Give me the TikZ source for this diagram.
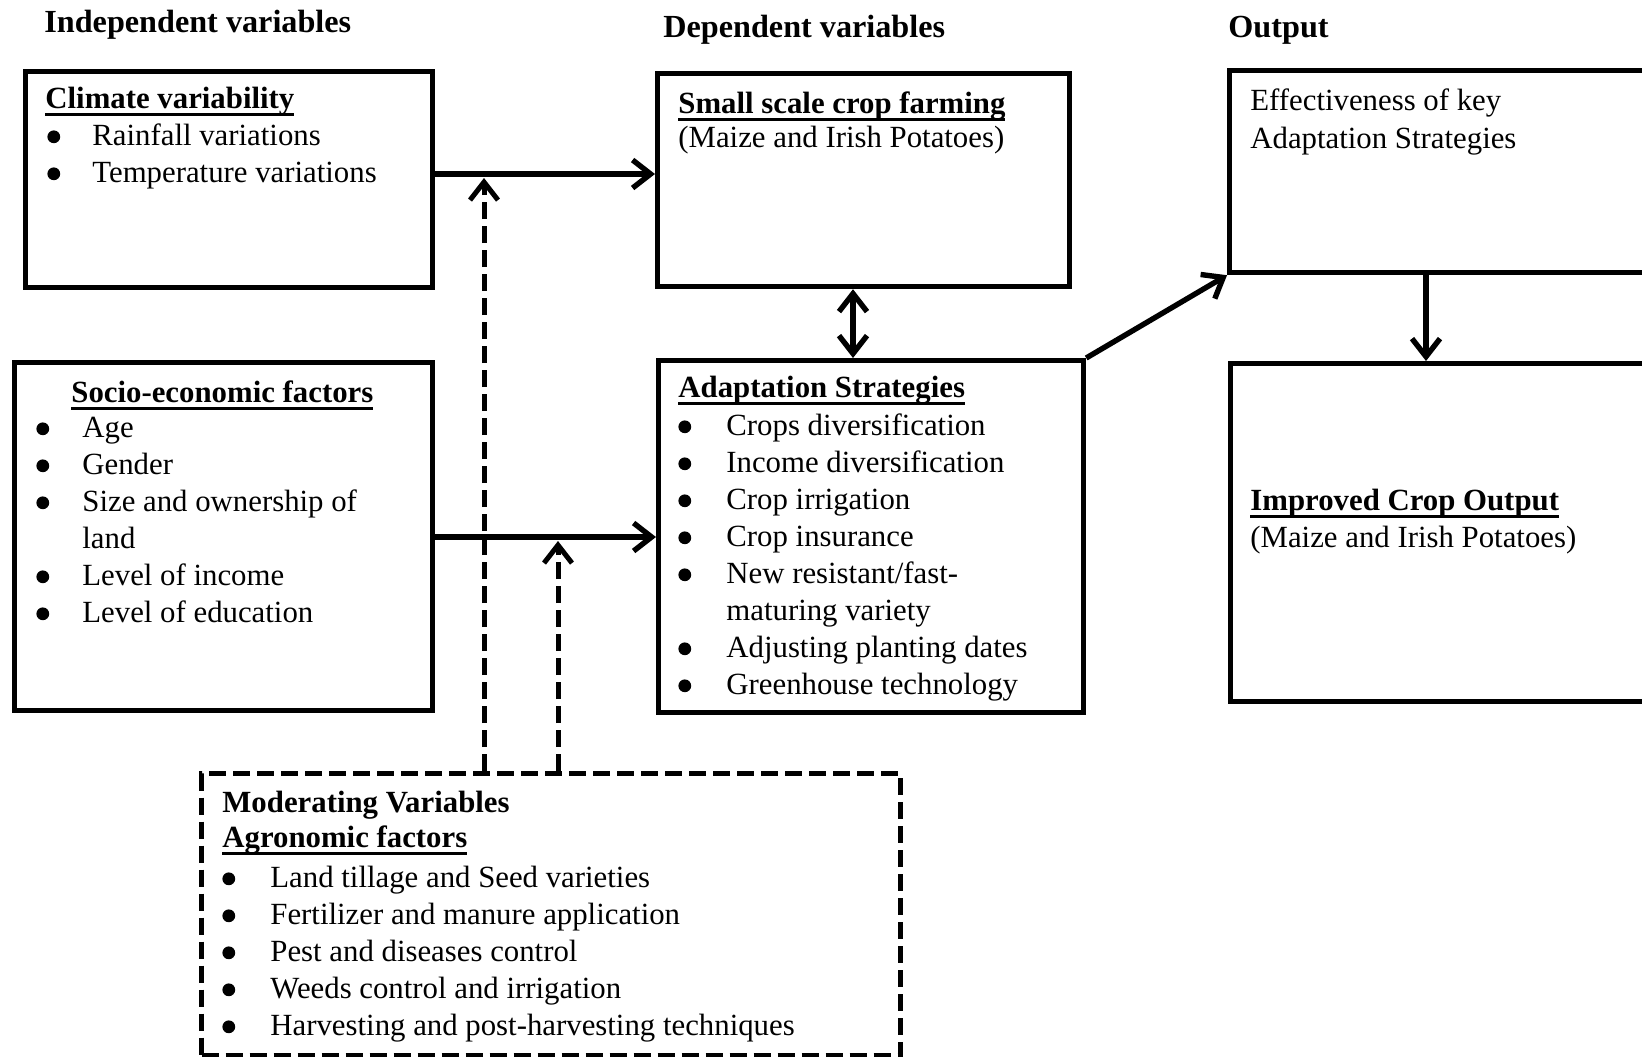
\documentclass[tikz,border=0pt]{standalone}
\usepackage{fontspec}
\setmainfont{Liberation Serif}
\usetikzlibrary{arrows.meta}
\newsavebox{\ulbox}
\newcommand{\ulhead}[1]{\sbox{\ulbox}{\textbf{#1}}\rlap{\rule[-4pt]{\wd\ulbox}{1.6pt}}\usebox{\ulbox}}
\newcommand{\bul}{\hspace*{0.5pt}\raisebox{0.9pt}{\tikz\fill (0,0) circle (3.2pt);}}
\newcommand{\blist}[2]{\begin{tabular}[t]{@{}p{#1}@{}l@{}}#2\end{tabular}}
\tikzset{
  box/.style={draw, line width=2.6pt, inner sep=0pt, anchor=north west},
  modbox/.style={draw, line width=2.5pt, dash pattern=on 8.5pt off 3.5pt, inner sep=0pt, anchor=north west},
  txt/.style={anchor=base west, inner sep=0pt, font=\fontsize{15.4pt}{18.5pt}\selectfont},
  toptxt/.style={anchor=base west, inner sep=0pt, font=\fontsize{16.1pt}{19pt}\selectfont\bfseries},
  barb/.tip={Straight Barb[length=9pt,width=14pt]},
  arr/.style={line width=2.7pt, -barb},
  darr/.style={line width=2.5pt, dash pattern=on 8.5pt off 3.5pt, -barb},
}
\begin{document}
\begin{tikzpicture}[x=0.5pt,y=0.5pt,yscale=-1]
\useasboundingbox (0,0) rectangle (1642,1056);
\clip (0,0) rectangle (1642,1056);

%Shape: Rectangle [climate]
\node[box, minimum width=203.5pt, minimum height=107.75pt] (clim) at (23,69) {};
%Shape: Rectangle [socio-economic]
\node[box, minimum width=209pt, minimum height=174pt] (socio) at (12,360) {};
%Shape: Rectangle [crop farming]
\node[box, minimum width=206pt, minimum height=106.5pt] (farm) at (655,71) {};
%Shape: Rectangle [adaptation]
\node[box, minimum width=212.5pt, minimum height=176pt] (adapt) at (656,358) {};
%Shape: Rectangle [effectiveness]
\node[box, minimum width=217pt, minimum height=101pt] (effect) at (1227,68) {};
%Shape: Rectangle [improved output]
\node[box, minimum width=216.5pt, minimum height=169pt] (improv) at (1228,361) {};
%Shape: Rectangle [moderating, dashed]
\node[modbox, minimum width=349.5pt, minimum height=141pt] (moder) at (199,771) {};

%Coordinates of the connector lines
\coordinate (climrow) at (0,174);
\coordinate (sociorow) at (0,537);
\coordinate (mtip1) at (484,178);
\coordinate (mtip2) at (558,541);
\coordinate (farmcol) at (853,0);
\coordinate (outcol) at (1426,0);

%Straight Lines
\draw[darr] (mtip1 |- moder.north) -- (mtip1);
\draw[darr] (mtip2 |- moder.north) -- (mtip2);
\draw[arr] (clim.east |- climrow) -- (farm.west |- climrow);
\draw[arr] (socio.east |- sociorow) -- (adapt.west |- sociorow);
\draw[arr, barb-barb] (farm.south -| farmcol) -- (adapt.north -| farmcol);
\draw[arr] (adapt.north east) -- (effect.south west);
\draw[arr] (effect.south -| outcol) -- (improv.north -| outcol);

% Text Node
\node[toptxt] (indep) at (44,32) {Independent variables};
% Text Node
\node[toptxt] (dep) at (663,37) {Dependent variables};
% Text Node
\node[toptxt] (outp) at (1228,37) {Output};

% Text Node
\node[txt] (climhead) at (45,108) {\ulhead{Climate variability}};
\node[txt] (climlist) at (46,145) {\blist{23pt}{\bul & Rainfall variations\\ \bul & Temperature variations}};
% Text Node
\node[txt] (sociohead) at (71,402) {\ulhead{Socio-economic factors}};
\node[txt] (sociolist) at (35,437) {\blist{23.5pt}{\bul & Age\\ \bul & Gender\\ \bul & Size and ownership of\\ & land\\ \bul & Level of income\\ \bul & Level of education}};
% Text Node
\node[txt] (farmhead) at (678,113) {\ulhead{Small scale crop farming}};
\node[txt] (farmsub) at (678,147) {(Maize and Irish Potatoes)};
% Text Node
\node[txt] (adapthead) at (678,397) {\ulhead{Adaptation Strategies}};
\node[txt] (adaptlist) at (677,435) {\blist{24.5pt}{\bul & Crops diversification\\ \bul & Income diversification\\ \bul & Crop irrigation\\ \bul & Crop insurance\\ \bul & New resistant/fast-\\ & maturing variety\\ \bul & Adjusting planting dates\\ \bul & Greenhouse technology}};
% Text Node
\node[txt] (effect1) at (1250,110) {Effectiveness of key};
\node[txt] (effect2) at (1250,148) {Adaptation Strategies};
% Text Node
\node[txt] (improvhead) at (1250,510) {\ulhead{Improved Crop Output}};
\node[txt] (improvsub) at (1250,547) {(Maize and Irish Potatoes)};
% Text Node
\node[txt] (moderhead) at (222,812) {\textbf{Moderating Variables}};
\node[txt] (agrohead) at (222,847) {\ulhead{Agronomic factors}};
\node[txt] (agrolist) at (221,887) {\blist{24.5pt}{\bul & Land tillage and Seed varieties\\ \bul & Fertilizer and manure application\\ \bul & Pest and diseases control\\ \bul & Weeds control and irrigation\\ \bul & Harvesting and post-harvesting techniques}};
\end{tikzpicture}
\end{document}
